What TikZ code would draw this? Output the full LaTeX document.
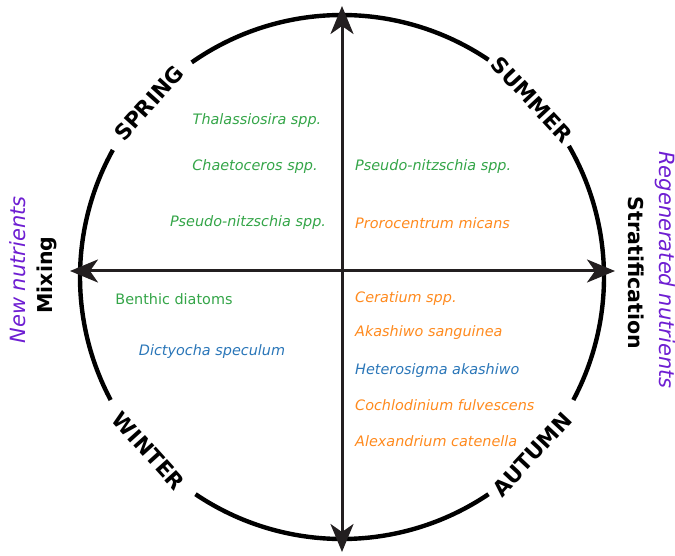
\documentclass[tikz,border=0pt]{standalone}
\usepackage{fontspec}
\setmainfont{DejaVu Sans}
\usetikzlibrary{arrows.meta}
\definecolor{tgreen}{RGB}{52,165,72}
\definecolor{torange}{HTML}{FF8A1E}
\definecolor{tblue}{HTML}{2A76B8}
\definecolor{tpurple}{RGB}{110,30,210}
\definecolor{arrowc}{HTML}{231F20}
\begin{document}
\begin{tikzpicture}[x=1pt,y=1pt,
  ring/.style={line width=4.4pt,black},
  axis/.style={line width=3pt,arrowc,{Stealth[length=28pt,width=23pt,inset=8pt]}-{Stealth[length=28pt,width=23pt,inset=8pt]}},
  season/.style={font=\fontsize{21.5}{21.5}\selectfont\bfseries,inner sep=0pt,text height=15.7pt,text depth=0pt,black},
  driver/.style={font=\fontsize{20.5}{20.5}\selectfont\bfseries,inner sep=0pt,black},
  nutr/.style={font=\fontsize{21}{21}\selectfont\itshape,inner sep=0pt,tpurple},
  sp/.style={font=\fontsize{14.4}{14.4}\selectfont\itshape,inner sep=0pt},
  spr/.style={sp,anchor=west},
]
\useasboundingbox (0,0) rectangle (675,555);
\coordinate (C) at (342,278);
% ring with gaps for season labels
\draw[ring] ([shift={(56:262)}]C) arc[start angle=56,end angle=125,radius=262];
\draw[ring] ([shift={(151:262)}]C) arc[start angle=151,end angle=208,radius=262];
\draw[ring] ([shift={(236:262)}]C) arc[start angle=236,end angle=304,radius=262];
\draw[ring] ([shift={(332:262)}]C) arc[start angle=332,end angle=390,radius=262];
% axes
\coordinate (top) at (342,549);
\coordinate (bot) at (342,3);
\coordinate (lft) at (70,284);
\coordinate (rgt) at (615,284);
\draw[axis] (bot) -- (top);
\draw[axis] (lft) -- (rgt);
% seasons
\node[season,rotate=48] (spring) at ([shift={(138:260)}]C) {SPRING};
\node[season,rotate=-47] (summer) at ([shift={(43:260)}]C) {SUMMER};
\node[season,rotate=-48] (winter) at ([shift={(222:260)}]C) {WINTER};
\node[season,rotate=47] (autumn) at ([shift={(317:260)}]C) {AUTUMN};
% drivers
\node[driver,rotate=90] (mixing) at (47,280) {Mixing};
\node[driver,rotate=-90] (strat) at (636,282) {Stratification};
\node[nutr,rotate=90] (newn) at (18,285) {New nutrients};
\node[nutr,rotate=-90] (regen) at (665,285) {Regenerated nutrients};
% species
\node[sp,tgreen] (thal) at (257,434) {Thalassiosira spp.};
\node[sp,tgreen] (chae) at (255,388) {Chaetoceros spp.};
\node[sp,tgreen] (pnl) at (248,332) {Pseudo-nitzschia spp.};
\node[spr,tgreen] (pnr) at (355,388) {Pseudo-nitzschia spp.};
\node[spr,torange] (pror) at (355,332) {Prorocentrum micans};
\node[sp,font=\fontsize{14.4}{14.4}\selectfont,tgreen] (benth) at (174,256) {Benthic diatoms};
\node[sp,tblue] (dict) at (212,203) {Dictyocha speculum};
\node[spr,torange] (cera) at (355,256) {Ceratium spp.};
\node[spr,torange] (akas) at (355,222) {Akashiwo sanguinea};
\node[spr,tblue] (hete) at (355,184) {Heterosigma akashiwo};
\node[spr,torange] (coch) at (355,150) {Cochlodinium fulvescens};
\node[spr,torange] (alex) at (355,114) {Alexandrium catenella};
\end{tikzpicture}
\end{document}
